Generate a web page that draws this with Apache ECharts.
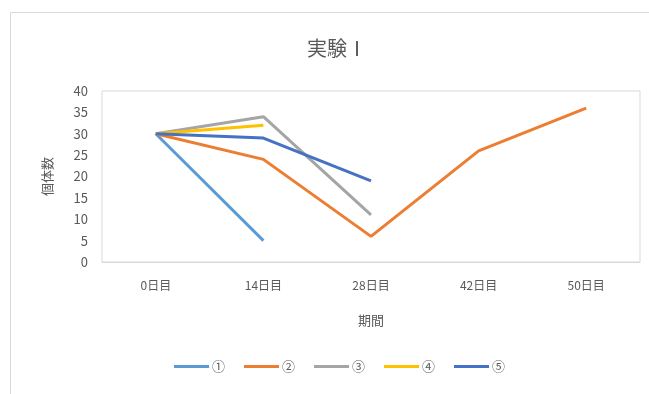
<!DOCTYPE html>
<html lang="ja">
<head>
  <meta charset="UTF-8">
  <title>実験Ⅰ</title>
  <script src="https://cdn.jsdelivr.net/npm/echarts@6/dist/echarts.min.js"></script>
  <style>
    html, body { margin: 0; padding: 0; background: #fff; }
  </style>
</head>
<body>
  <div id="main" style="width: 649px;height:394px;"></div>
  <script>
    // 期間（カテゴリ）
    var days = ['0日目', '14日目', '28日目', '42日目', '50日目'];
    // 系列名
    var names = ['①', '②', '③', '④', '⑤'];
    // 各系列の個体数
    var s1 = [30, 5];
    var s2 = [30, 24, 6, 26, 36];
    var s3 = [30, 34, 11];
    var s4 = [30, 32];
    var s5 = [30, 29, 19];
    var colors = ['#5B9BD5', '#ED7D31', '#A5A5A5', '#FFC000', '#4472C4'];

    var myChart = echarts.init(document.getElementById('main'));
    var font = '"Noto Sans CJK JP", "Noto Sans", sans-serif';

    var seriesData = [s1, s2, s3, s4, s5];
    var series = seriesData.map(function (d, i) {
      return {
        name: names[i],
        type: 'line',
        symbol: 'none',
        lineStyle: { width: 3, color: colors[i] },
        itemStyle: { color: colors[i] },
        data: d
      };
    });

    var option = {
      animation: false,
      textStyle: { fontFamily: font },
      title: {
        text: '実験Ⅰ',
        left: 332,
        textAlign: 'center',
        top: 33,
        textStyle: { fontFamily: font, fontSize: 20, fontWeight: 'normal', color: '#595959' }
      },
      // 外枠
      graphic: [{
        type: 'rect',
        shape: { x: 10.5, y: 12.5, width: 700, height: 420 },
        style: { fill: 'none', stroke: '#d9d9d9', lineWidth: 1 },
        silent: true
      }],
      legend: {
        data: names,
        left: 169,
        top: 355,
        icon: 'rect',
        itemWidth: 35,
        itemHeight: 3,
        itemGap: 19,
        textStyle: { fontFamily: font, fontSize: 13, color: '#595959', padding: [0, 0, 0, -2] }
      },
      grid: {
        left: 102,
        right: 9,
        top: 91,
        bottom: 132,
        show: true,
        borderColor: '#d9d9d9',
        borderWidth: 1
      },
      xAxis: {
        type: 'category',
        data: days,
        name: '期間',
        nameLocation: 'middle',
        nameGap: 52,
        nameTextStyle: { fontFamily: font, fontSize: 13, color: '#595959' },
        axisLine: { lineStyle: { color: '#d9d9d9' } },
        axisTick: { length: 4, lineStyle: { color: '#d9d9d9' } },
        axisLabel: { fontFamily: font, fontSize: 12, color: '#595959', margin: 17 }
      },
      yAxis: {
        type: 'value',
        min: 0,
        max: 40,
        interval: 5,
        name: '個体数',
        nameLocation: 'middle',
        nameGap: 48,
        nameTextStyle: { fontFamily: font, fontSize: 13, color: '#595959' },
        axisLine: { show: false },
        axisTick: { show: false },
        splitLine: { show: false },
        axisLabel: { fontFamily: font, fontSize: 13, color: '#595959', margin: 14 }
      },
      series: series
    };

    myChart.setOption(option);
  </script>
</body>
</html>
